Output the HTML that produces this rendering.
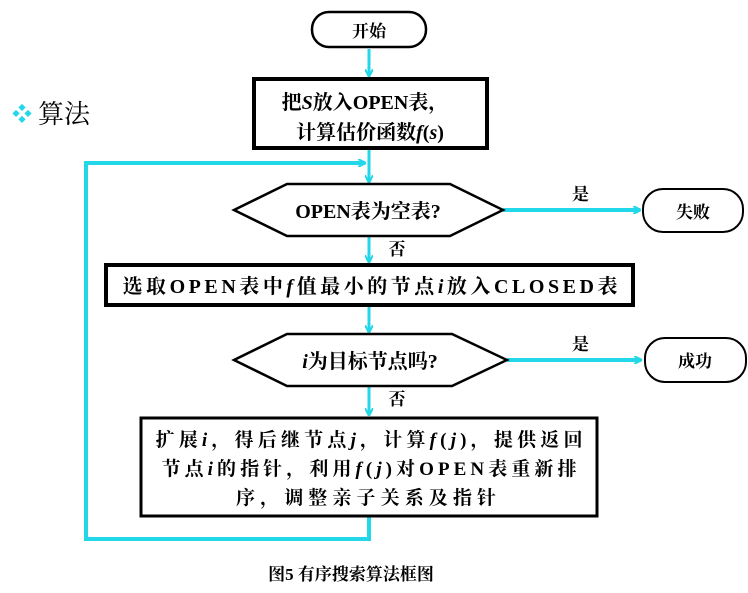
<!DOCTYPE html>
<html><head><meta charset="utf-8"><style>
html,body{margin:0;padding:0;background:#fff;}
svg text{font-family:"Liberation Serif","Noto Serif CJK SC",serif;font-weight:bold;fill:#000;}
</style></head><body>
<svg width="748" height="588" viewBox="0 0 748 588" xmlns="http://www.w3.org/2000/svg">
<defs><marker id="a" markerWidth="8" markerHeight="8" refX="7" refY="4" orient="auto" markerUnits="userSpaceOnUse"><path d="M0,0 L8,4 L0,8" fill="none" stroke="#22d8e8" stroke-width="2"/></marker></defs>
<g stroke="#22d8e8" stroke-width="4" fill="none">
<line x1="369" y1="49" x2="369" y2="76" stroke-width="3" marker-end="url(#a)"/>
<line x1="369" y1="149" x2="369" y2="182" stroke-width="3" marker-end="url(#a)"/>
<polyline points="369,517 369,539 86,539 86,163 365,163" marker-end="url(#a)"/>
<line x1="503" y1="210" x2="640" y2="210" marker-end="url(#a)"/>
<line x1="369" y1="237" x2="369" y2="262" stroke-width="3" marker-end="url(#a)"/>
<line x1="369" y1="307" x2="369" y2="332" stroke-width="3" marker-end="url(#a)"/>
<line x1="507" y1="360" x2="641" y2="360" marker-end="url(#a)"/>
<line x1="369" y1="387" x2="369" y2="415" stroke-width="3" marker-end="url(#a)"/>
</g>
<g stroke="#000" fill="#fff">
<rect x="312" y="12" width="114" height="35" rx="17" stroke-width="2.5"/>
<rect x="254" y="79" width="233" height="69" stroke-width="4"/>
<polygon points="234,210 287,184 450,184 503,210 450,236 287,236" stroke-width="2.5"/>
<rect x="643" y="189" width="100" height="43" rx="20" stroke-width="2"/>
<rect x="106" y="265" width="527" height="40" stroke-width="4"/>
<polygon points="234,360 287,334 452,334 507,360 452,386 287,386" stroke-width="2.5"/>
<rect x="645" y="338" width="101" height="44" rx="20" stroke-width="2"/>
<rect x="141" y="418" width="456" height="98" stroke-width="3"/>
</g>
<text x="369" y="37" font-size="17" text-anchor="middle">开始</text>
<text x="12" y="121" font-size="20" style="fill:#22d8e8">❖</text>
<text x="38" y="123" font-size="26" style="font-weight:normal">算法</text>
<text x="365" y="109" font-size="20" text-anchor="middle">把<tspan font-style="italic">S</tspan>放入OPEN表，</text>
<text x="370" y="139" font-size="20" text-anchor="middle">计算估价函数<tspan font-style="italic">f</tspan>(<tspan font-style="italic">s</tspan>)</text>
<text x="368" y="218" font-size="20" text-anchor="middle">OPEN表为空表?</text>
<text x="572" y="200" font-size="17">是</text>
<text x="693" y="218" font-size="17" text-anchor="middle">失败</text>
<text x="397" y="255" font-size="17" text-anchor="middle">否</text>
<text x="370" y="293" font-size="20" text-anchor="middle" textLength="495">选取OPEN表中<tspan font-style="italic">f</tspan>值最小的节点<tspan font-style="italic">i</tspan>放入CLOSED表</text>
<text x="370" y="368" font-size="20" text-anchor="middle"><tspan font-style="italic">i</tspan>为目标节点吗?</text>
<text x="572" y="350" font-size="17">是</text>
<text x="695" y="367" font-size="17" text-anchor="middle">成功</text>
<text x="397" y="405" font-size="17" text-anchor="middle">否</text>
<text x="369" y="446" font-size="19" text-anchor="middle" textLength="427">扩展<tspan font-style="italic">i</tspan>，得后继节点<tspan font-style="italic">j</tspan>，计算<tspan font-style="italic">f</tspan>(<tspan font-style="italic">j</tspan>)，提供返回</text>
<text x="369" y="475" font-size="19" text-anchor="middle" textLength="415">节点<tspan font-style="italic">i</tspan>的指针，利用<tspan font-style="italic">f</tspan>(<tspan font-style="italic">j</tspan>)对OPEN表重新排</text>
<text x="366" y="504" font-size="19" text-anchor="middle" textLength="260">序，调整亲子关系及指针</text>
<text x="351" y="580" font-size="17" text-anchor="middle">图5 有序搜索算法框图</text>
</svg>
</body></html>
